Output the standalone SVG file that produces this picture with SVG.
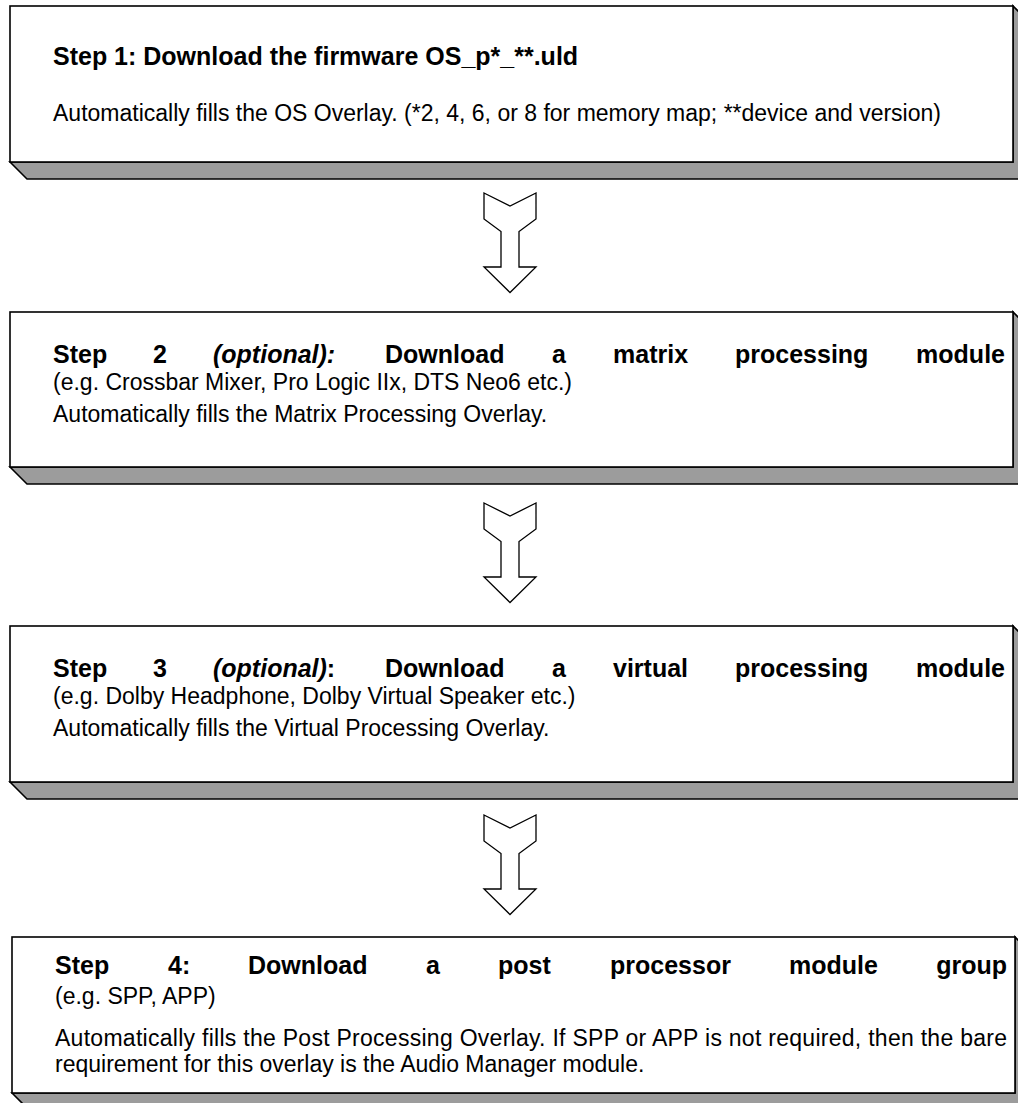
<svg xmlns="http://www.w3.org/2000/svg" width="1018" height="1103" viewBox="0 0 1018 1103">
<style>
.face{fill:#fff;stroke:#000;stroke-width:1.6}
.shade{fill:#9c9c9c;stroke:#000;stroke-width:1.6;stroke-linejoin:miter}
.t{font-family:"Liberation Sans",Arial,sans-serif;font-size:25px;font-weight:bold;fill:#000}
.b{font-family:"Liberation Sans",Arial,sans-serif;font-size:23px;fill:#000}
.i{font-style:italic}
.arr{fill:#fff;stroke:#000;stroke-width:1.3;stroke-linejoin:miter}
</style>
<defs>
<path id="arrow" class="arr" d="M-26,0 L0,13 L26,0 L26,26 L9,38.5 L9,74 L26,74 L0,99.5 L-26,74 L-9,74 L-9,38.5 L-26,26 Z"/>
</defs>
<rect width="1018" height="1103" fill="#fff"/>

<g id="step1">
<polygon class="shade" points="10,162 27,179 1030,179 1030,23 1013,6 1013,162"/>
<rect class="face" x="10" y="6" width="1003" height="156"/>
<text class="t" x="53" y="65">Step 1: Download the firmware OS_p*_**.uld</text>
<text class="b" x="53" y="121">Automatically fills the OS Overlay. (*2, 4, 6, or 8 for memory map; **device and version)</text>
</g>

<g id="step2">
<polygon class="shade" points="10,467 27,484 1030,484 1030,329 1013,312 1013,467"/>
<rect class="face" x="10" y="312" width="1003" height="155"/>
<text class="t" y="363"><tspan x="53">Step</tspan><tspan x="153">2</tspan><tspan x="213" class="i">(optional):</tspan><tspan x="385">Download</tspan><tspan x="552">a</tspan><tspan x="613">matrix</tspan><tspan x="735">processing</tspan></text>
<text class="t" x="1005" y="363" text-anchor="end">module</text>
<text class="b" x="53" y="390">(e.g. Crossbar Mixer, Pro Logic IIx, DTS Neo6 etc.)</text>
<text class="b" x="53" y="422">Automatically fills the Matrix Processing Overlay.</text>
</g>

<g id="step3">
<polygon class="shade" points="10,782 27,799 1030,799 1030,643 1013,626 1013,782"/>
<rect class="face" x="10" y="626" width="1003" height="156"/>
<text class="t" y="677"><tspan x="53">Step</tspan><tspan x="153">3</tspan><tspan x="213" class="i">(optional)</tspan><tspan>:</tspan><tspan x="385">Download</tspan><tspan x="552">a</tspan><tspan x="613">virtual</tspan><tspan x="735">processing</tspan></text>
<text class="t" x="1005" y="677" text-anchor="end">module</text>
<text class="b" x="53" y="704">(e.g. Dolby Headphone, Dolby Virtual Speaker etc.)</text>
<text class="b" x="53" y="736">Automatically fills the Virtual Processing Overlay.</text>
</g>

<g id="step4">
<polygon class="shade" points="12,1093 29,1110 1032,1110 1032,954 1015,937 1015,1093"/>
<rect class="face" x="12" y="937" width="1003" height="156"/>
<text class="t" y="974"><tspan x="55">Step</tspan><tspan x="168">4:</tspan><tspan x="248">Download</tspan><tspan x="426">a</tspan><tspan x="498">post</tspan><tspan x="610">processor</tspan><tspan x="789">module</tspan></text>
<text class="t" x="1007" y="974" text-anchor="end">group</text>
<text class="b" x="55" y="1004">(e.g. SPP, APP)</text>
<text class="b" x="55" y="1046" textLength="952" lengthAdjust="spacing">Automatically fills the Post Processing Overlay. If SPP or APP is not required, then the bare</text>
<text class="b" x="55" y="1072">requirement for this overlay is the Audio Manager module.</text>
</g>

<g id="connectors">
<use href="#arrow" x="510" y="193"/>
<use href="#arrow" x="510" y="503"/>
<use href="#arrow" x="510" y="815"/>
</g>
</svg>
